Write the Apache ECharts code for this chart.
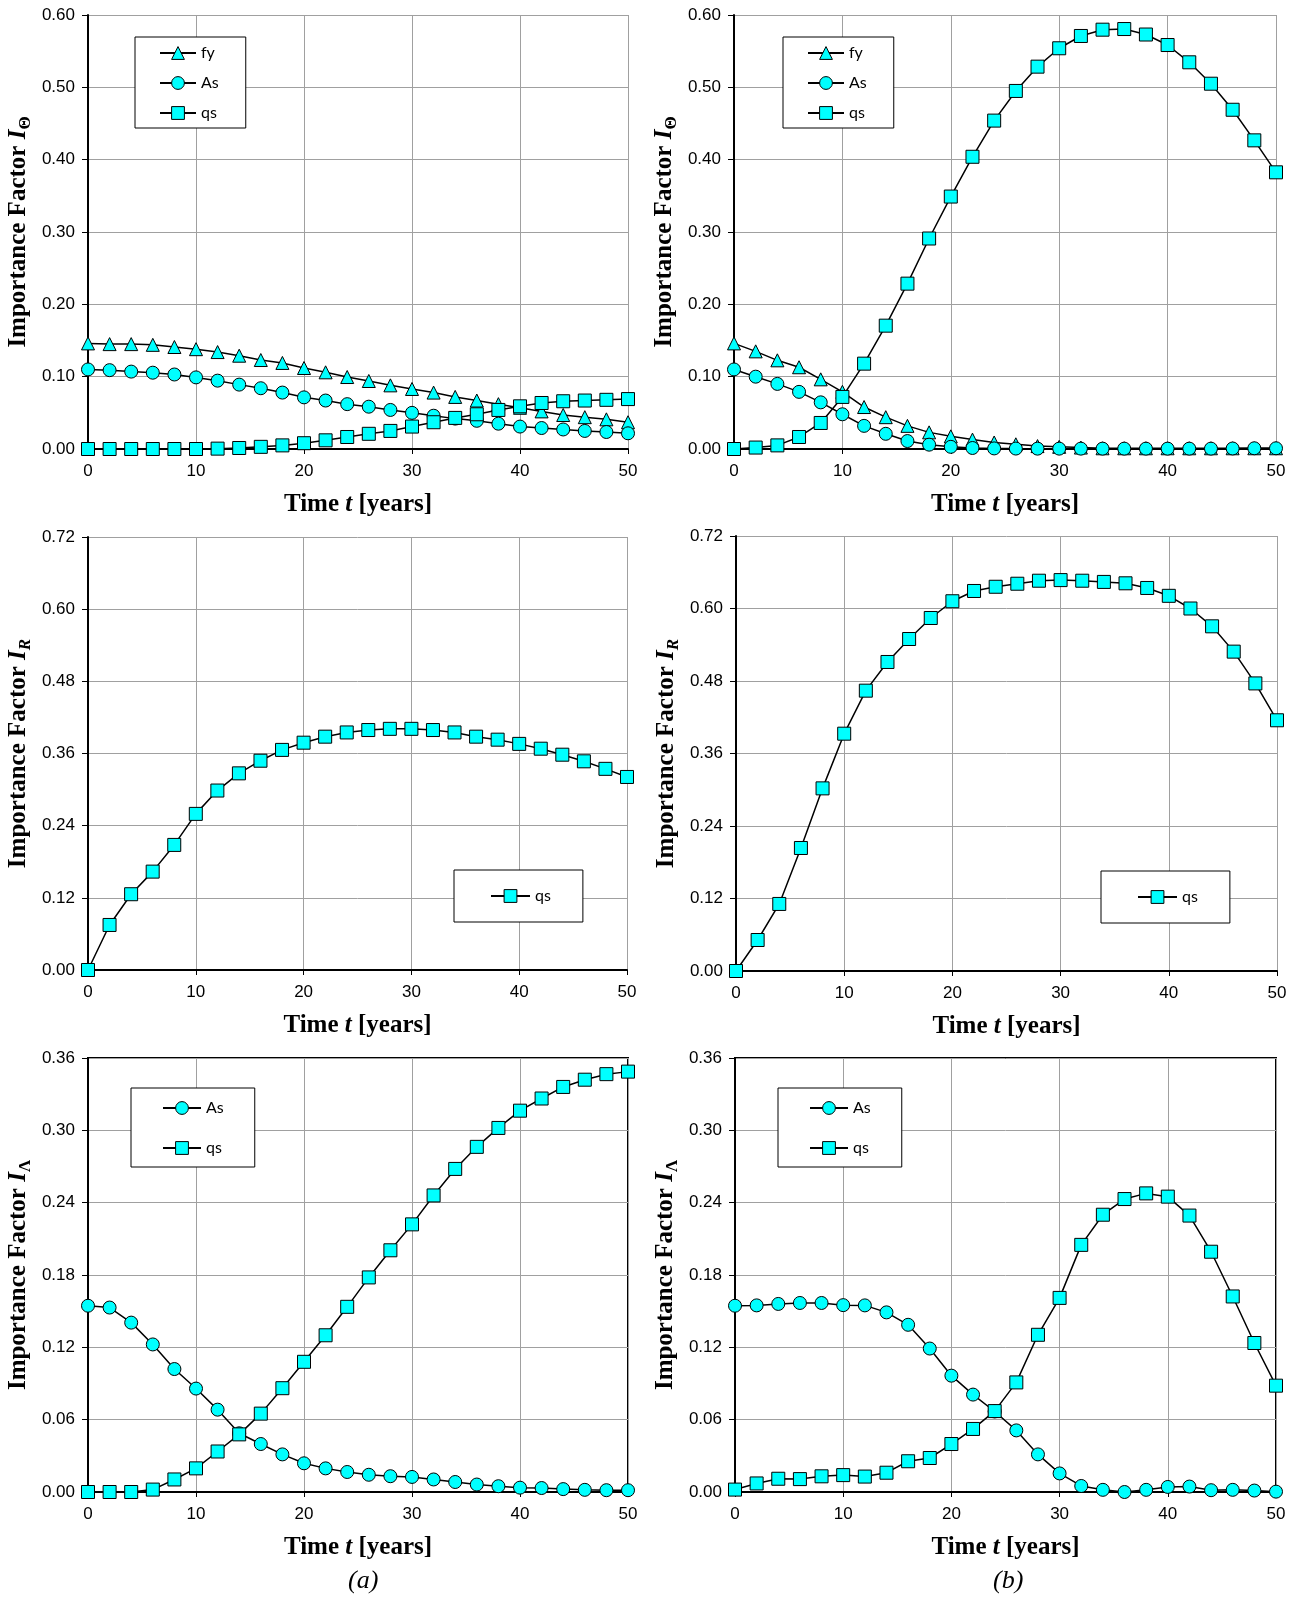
<!DOCTYPE html>
<html>
<head>
<meta charset="utf-8">
<script src="https://cdn.jsdelivr.net/npm/echarts@6/dist/echarts.min.js"></script>
<style>
html,body{margin:0;padding:0;background:#fff;}
#chart{width:1299px;height:1603px;}
</style>
</head>
<body>
<div id="chart"></div>
<script>
// ---------------- DATA ----------------
var time = [0,2,4,6,8,10,12,14,16,18,20,22,24,26,28,30,32,34,36,38,40,42,44,46,48,50];

// Row 1: Importance factor I_Theta
var thetaA_fy = [0.146,0.145,0.145,0.144,0.141,0.138,0.134,0.129,0.123,0.119,0.112,0.106,0.0995,0.094,0.088,0.083,0.078,0.072,0.067,0.062,0.057,0.052,0.047,0.044,0.041,0.037];
var thetaA_As = [0.110,0.109,0.107,0.1055,0.103,0.099,0.0945,0.089,0.084,0.078,0.0714,0.067,0.062,0.0585,0.054,0.050,0.046,0.042,0.039,0.035,0.031,0.029,0.027,0.025,0.0235,0.0217];
var thetaA_qs = [0,0,0,0,0,0,0.0005,0.0014,0.003,0.005,0.008,0.012,0.0166,0.021,0.025,0.031,0.037,0.043,0.048,0.054,0.059,0.0636,0.066,0.067,0.068,0.069];

var thetaB_fy = [0.146,0.135,0.1226,0.113,0.0963,0.079,0.058,0.044,0.032,0.023,0.0175,0.013,0.009,0.0065,0.004,0.003,0.002,0.001,0.001,0.001,0.001,0.001,0.001,0.001,0.001,0.001];
var thetaB_As = [0.110,0.100,0.090,0.079,0.0645,0.048,0.032,0.021,0.011,0.006,0.003,0.0014,0.0008,0.0006,0.0005,0.0005,0.0005,0.0005,0.0005,0.0005,0.0005,0.0005,0.0005,0.0007,0.001,0.001];
var thetaB_qs = [0,0.002,0.005,0.0166,0.036,0.072,0.118,0.1705,0.2286,0.291,0.349,0.404,0.454,0.495,0.5286,0.554,0.571,0.5797,0.5806,0.573,0.5585,0.5346,0.505,0.469,0.4267,0.3825];

// Row 2: Importance factor I_R
var rA_qs = [0,0.0749,0.126,0.1636,0.208,0.2596,0.2984,0.327,0.348,0.366,0.378,0.388,0.395,0.399,0.401,0.401,0.399,0.395,0.388,0.383,0.376,0.368,0.358,0.347,0.3345,0.321];
var rB_qs = [0,0.0513,0.111,0.2036,0.3023,0.3928,0.464,0.5115,0.5495,0.5843,0.612,0.629,0.636,0.641,0.646,0.647,0.646,0.644,0.6417,0.634,0.621,0.600,0.5705,0.5286,0.476,0.415];

// Row 3: Importance factor I_Lambda
var lamA_As = [0.1545,0.153,0.1405,0.1224,0.102,0.0858,0.0683,0.0487,0.0398,0.0312,0.0238,0.0196,0.0166,0.0143,0.0131,0.0125,0.0104,0.0083,0.0062,0.0048,0.0036,0.0033,0.0024,0.0018,0.0015,0.0015];
var lamA_qs = [0,0,0,0.002,0.0104,0.0196,0.0336,0.0478,0.065,0.0861,0.108,0.130,0.1536,0.178,0.2005,0.222,0.246,0.268,0.2863,0.302,0.3163,0.3264,0.336,0.342,0.3466,0.3487];
var lamB_As = [0.1545,0.1548,0.156,0.1568,0.1568,0.155,0.1548,0.149,0.1387,0.119,0.0965,0.0808,0.0668,0.0511,0.0312,0.0154,0.005,0.0018,0,0.0018,0.0042,0.0045,0.0015,0.0018,0.0012,0.0003];
var lamB_qs = [0.002,0.0071,0.011,0.0107,0.013,0.014,0.0128,0.016,0.0255,0.0282,0.0398,0.0523,0.0671,0.0909,0.1304,0.161,0.205,0.230,0.243,0.2477,0.245,0.2293,0.1993,0.1622,0.1236,0.0882];

var xTicks = {min: 0, max: 50, interval: 10};
var yTheta = {min: 0, max: 0.60, interval: 0.10};
var yR = {min: 0, max: 0.72, interval: 0.12};
var yLam = {min: 0, max: 0.36, interval: 0.06};
var captions = ['(a)', '(b)'];

// ---------------- STYLE / LAYOUT ----------------
var CYAN = '#00FFFF';
var SERIF = '"Liberation Serif","Times New Roman",serif';
var SANS = '"Liberation Sans",Arial,sans-serif';
var LEG = 'Lato,"Open Sans",sans-serif';

var grids = [
  {left: 88, top: 15, width: 540, height: 434},
  {left: 734, top: 15, width: 542, height: 434},
  {left: 88, top: 537, width: 539, height: 433},
  {left: 736, top: 536, width: 541, height: 435},
  {left: 88, top: 1058, width: 540, height: 434, show: true, borderColor: '#000', borderWidth: 2},
  {left: 735, top: 1058, width: 541, height: 434, show: true, borderColor: '#000', borderWidth: 2}
];

function pairs(arr) { return time.map(function (t, i) { return [t, arr[i]]; }); }

function xAxis(i) {
  return {
    type: 'value', gridIndex: i, min: xTicks.min, max: xTicks.max, interval: xTicks.interval,
    axisLine: {show: true, onZero: false, lineStyle: {color: '#000', width: 2}},
    axisTick: {show: true, length: 5, lineStyle: {color: '#000', width: 1}},
    axisLabel: {color: '#000', fontFamily: SANS, fontSize: 17, margin: 14},
    splitLine: {show: true, lineStyle: {color: '#a0a0a0', width: 1}},
    name: '{b|Time }{bi|t}{b| [years]}',
    nameLocation: 'middle', nameGap: 43,
    nameTextStyle: {
      rich: {
        b: {fontFamily: SERIF, fontWeight: 'bold', fontSize: 25, color: '#000'},
        bi: {fontFamily: SERIF, fontWeight: 'bold', fontStyle: 'italic', fontSize: 25, color: '#000'}
      }
    }
  };
}

function yAxis(i, sc, subText, subStyle) {
  return {
    type: 'value', gridIndex: i, min: sc.min, max: sc.max, interval: sc.interval,
    axisLine: {show: true, onZero: false, lineStyle: {color: '#000', width: 2}},
    axisTick: {show: true, length: 6, lineStyle: {color: '#000', width: 1}},
    axisLabel: {color: '#000', fontFamily: SANS, fontSize: 17, margin: 13,
      formatter: function (v) { return v.toFixed(2); }},
    splitLine: {show: true, lineStyle: {color: '#a0a0a0', width: 1}},
    name: '{b|Importance Factor }{bi|I}{' + subStyle + '|' + subText + '}',
    nameLocation: 'middle', nameGap: 54, nameRotate: 90,
    nameTextStyle: {
      rich: {
        b: {fontFamily: SERIF, fontWeight: 'bold', fontSize: 25, color: '#000', lineHeight: 30},
        bi: {fontFamily: SERIF, fontWeight: 'bold', fontStyle: 'italic', fontSize: 25, color: '#000', lineHeight: 30},
        sub: {fontFamily: SERIF, fontWeight: 'bold', fontSize: 17, color: '#000', lineHeight: 12, verticalAlign: 'bottom'},
        subi: {fontFamily: SERIF, fontWeight: 'bold', fontStyle: 'italic', fontSize: 17, color: '#000', lineHeight: 12, verticalAlign: 'bottom'}
      }
    }
  };
}

var SYM = {fy: 'triangle', As: 'circle', qs: 'rect'};
function line(name, gi, arr) {
  return {
    type: 'line', name: name, xAxisIndex: gi, yAxisIndex: gi,
    data: pairs(arr), symbol: SYM[name], symbolSize: 13,
    showAllSymbol: true,
    lineStyle: {color: '#000', width: 1.5},
    itemStyle: {color: CYAN, borderColor: '#000', borderWidth: 1},
    emphasis: {disabled: true}
  };
}

function legend(names, left, top, opt) {
  return Object.assign({
    data: names, orient: 'vertical', left: left, top: top,
    itemWidth: 36, itemHeight: 16, itemGap: 14,
    padding: [8, 27, 7, 24],
    borderColor: '#000', borderWidth: 1, backgroundColor: '#fff',
    selectedMode: false,
    textStyle: {fontFamily: LEG, fontSize: 16, color: '#000'},
    itemStyle: {borderColor: '#000', borderWidth: 1}
  }, opt || {});
}

var option = {
  animation: false,
  backgroundColor: '#fff',
  grid: grids,
  xAxis: [0,1,2,3,4,5].map(xAxis),
  yAxis: [
    yAxis(0, yTheta, 'Θ', 'sub'),
    yAxis(1, yTheta, 'Θ', 'sub'),
    yAxis(2, yR, 'R', 'subi'),
    yAxis(3, yR, 'R', 'subi'),
    yAxis(4, yLam, 'Λ', 'sub'),
    yAxis(5, yLam, 'Λ', 'sub')
  ],
  legend: [
    legend(['fy','As','qs'], 135, 37),
    legend(['fy','As','qs'], 783, 37),
    legend(['qs'], 454, 870, {padding: [18, 32, 18, 36], itemWidth: 39}),
    legend(['qs'], 1101, 871, {padding: [18, 32, 18, 36], itemWidth: 39}),
    legend(['As','qs'], 131, 1088, {padding: [12, 31, 11, 31], itemWidth: 38, itemGap: 24}),
    legend(['As','qs'], 778, 1088, {padding: [12, 31, 11, 31], itemWidth: 38, itemGap: 24})
  ],
  series: [
    line('fy', 0, thetaA_fy), line('As', 0, thetaA_As), line('qs', 0, thetaA_qs),
    line('fy', 1, thetaB_fy), line('As', 1, thetaB_As), line('qs', 1, thetaB_qs),
    line('qs', 2, rA_qs),
    line('qs', 3, rB_qs),
    line('As', 4, lamA_As), line('qs', 4, lamA_qs),
    line('As', 5, lamB_As), line('qs', 5, lamB_qs)
  ],
  graphic: [
    {type: 'text', left: 348, top: 1568, style: {text: captions[0], font: 'italic 26px ' + SERIF, fill: '#000'}},
    {type: 'text', left: 993, top: 1568, style: {text: captions[1], font: 'italic 26px ' + SERIF, fill: '#000'}}
  ]
};

var chart = echarts.init(document.getElementById('chart'), null, {renderer: 'canvas'});
chart.setOption(option);
</script>
</body>
</html>
